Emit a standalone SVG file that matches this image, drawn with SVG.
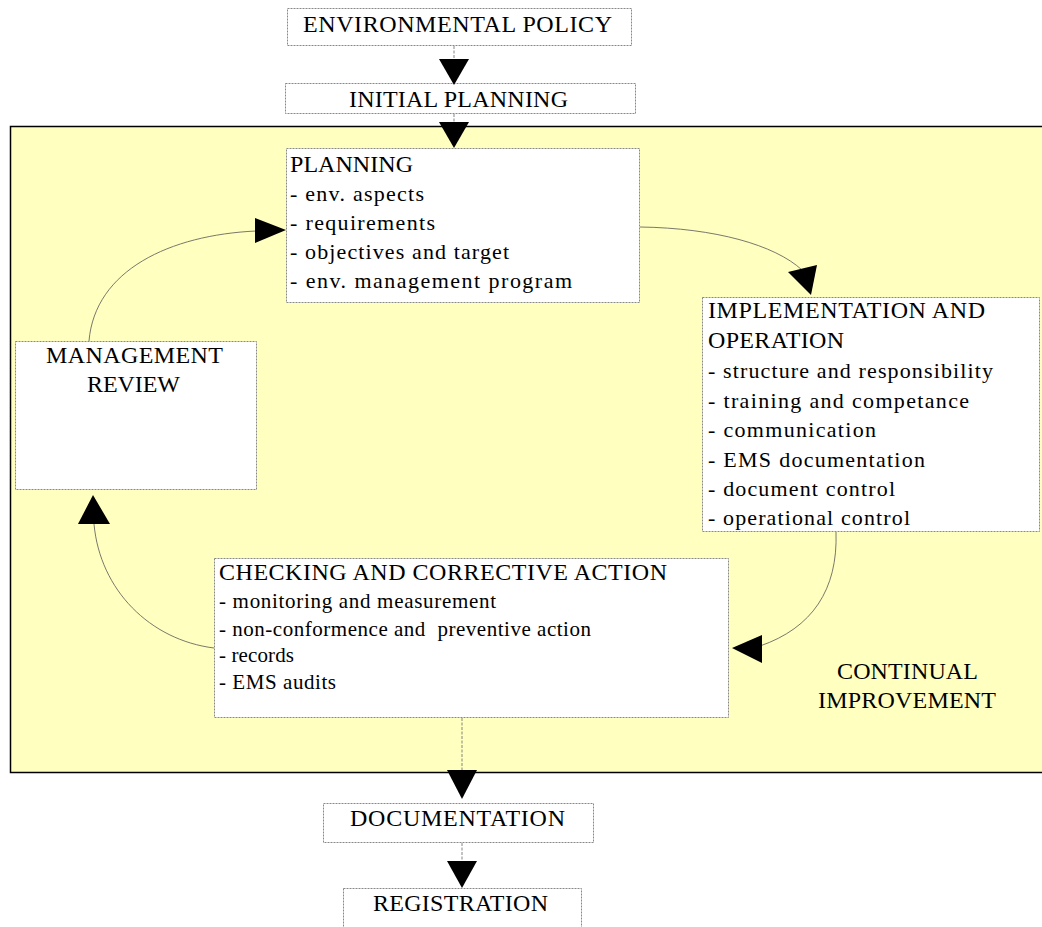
<svg xmlns="http://www.w3.org/2000/svg" width="1042" height="927" viewBox="0 0 1042 927">
<style>
.bg{fill:#FFFFC0;stroke:#000;stroke-width:1.5}
.box{fill:#fff;stroke:#888;stroke-width:1;stroke-dasharray:2,1}
.t{font-family:"Liberation Serif","Times New Roman",serif;fill:#000}
.h{font-size:24px}
.i{font-size:22px}
.s{font-size:21px}
.c{text-anchor:middle}
.ln{fill:none;stroke:#555;stroke-width:0.8}
.dl{fill:none;stroke:#666;stroke-width:0.8;stroke-dasharray:3,1.5}
.ah{fill:#000;stroke:none}
</style>
<rect class="bg" x="10.5" y="126.5" width="1045" height="646"/>
<g id="env-policy">
<rect class="box" x="287.5" y="8.5" width="344" height="37"/>
<text class="t h c" x="457.5" y="32" textLength="309" lengthAdjust="spacing">ENVIRONMENTAL POLICY</text>
</g>
<g id="initial-planning">
<rect class="box" x="285.5" y="83.5" width="350" height="30"/>
<text class="t h c" x="458.5" y="107" textLength="219" lengthAdjust="spacing">INITIAL PLANNING</text>
</g>
<g id="planning">
<rect class="box" x="286.5" y="148.5" width="353" height="154"/>
<text class="t h" x="290" y="172" textLength="123" lengthAdjust="spacing">PLANNING</text>
<text class="t i" x="290" y="201" textLength="134" lengthAdjust="spacing">- env. aspects</text>
<text class="t i" x="290" y="230" textLength="145" lengthAdjust="spacing">- requirements</text>
<text class="t i" x="290" y="259" textLength="219" lengthAdjust="spacing">- objectives and target</text>
<text class="t i" x="290" y="288" textLength="282" lengthAdjust="spacing">- env. management program</text>
</g>
<g id="implementation">
<rect class="box" x="702.5" y="297.5" width="337" height="234"/>
<text class="t h" x="708" y="318" textLength="277" lengthAdjust="spacing">IMPLEMENTATION AND</text>
<text class="t h" x="708" y="348" textLength="136" lengthAdjust="spacing">OPERATION</text>
<text class="t i" x="708" y="378" textLength="285" lengthAdjust="spacing">- structure and responsibility</text>
<text class="t i" x="708" y="408" textLength="261" lengthAdjust="spacing">- training and competance</text>
<text class="t i" x="708" y="437" textLength="168" lengthAdjust="spacing">- communication</text>
<text class="t i" x="708" y="467" textLength="217" lengthAdjust="spacing">- EMS documentation</text>
<text class="t i" x="708" y="496" textLength="187" lengthAdjust="spacing">- document control</text>
<text class="t i" x="708" y="525" textLength="202" lengthAdjust="spacing">- operational control</text>
</g>
<g id="checking">
<rect class="box" x="214.5" y="558.5" width="514" height="159"/>
<text class="t h" x="219" y="580" textLength="448" lengthAdjust="spacing">CHECKING AND CORRECTIVE ACTION</text>
<text class="t s" x="219" y="608" textLength="277" lengthAdjust="spacing">- monitoring and measurement</text>
<text class="t s" x="219" y="636" textLength="372" lengthAdjust="spacing" xml:space="preserve">- non-conformence and  preventive action</text>
<text class="t s" x="219" y="662" textLength="75" lengthAdjust="spacing">- records</text>
<text class="t s" x="219" y="689" textLength="117" lengthAdjust="spacing">- EMS audits</text>
</g>
<g id="management-review">
<rect class="box" x="15.5" y="341.5" width="241" height="148"/>
<text class="t h c" x="134.5" y="363" textLength="177" lengthAdjust="spacing">MANAGEMENT</text>
<text class="t h c" x="133.5" y="392" textLength="93" lengthAdjust="spacing">REVIEW</text>
</g>
<g id="continual-improvement">
<text class="t h c" x="907.5" y="679" textLength="141" lengthAdjust="spacing">CONTINUAL</text>
<text class="t h c" x="907" y="708" textLength="178" lengthAdjust="spacing">IMPROVEMENT</text>
</g>
<g id="documentation">
<rect class="box" x="323.5" y="803.5" width="270" height="39"/>
<text class="t h c" x="457.5" y="826" textLength="215" lengthAdjust="spacing">DOCUMENTATION</text>
</g>
<g id="registration">
<rect class="box" x="343.5" y="888.5" width="238" height="45"/>
<text class="t h c" x="460.5" y="911" textLength="175" lengthAdjust="spacing">REGISTRATION</text>
</g>
<g id="connectors">
<line class="dl" x1="454" y1="46" x2="454" y2="60"/>
<polygon class="ah" points="439,59 469,59 454,85"/>
<line class="dl" x1="454" y1="114" x2="454" y2="123"/>
<polygon class="ah" points="439,122 469,122 454,148"/>
<path class="ln" d="M640,227 C715,228 775,245 802,270"/>
<polygon class="ah" points="788,272 817,265 811,295"/>
<path class="ln" d="M836,532 C838,590 812,628 760,646"/>
<polygon class="ah" points="762,635 762,663 732,648"/>
<path class="ln" d="M214,648 C150,640 100,590 94,524"/>
<polygon class="ah" points="78,524 110,524 93,495"/>
<path class="ln" d="M89,341 C95,270 170,235 256,231"/>
<polygon class="ah" points="255,218 255,243 286,230"/>
<line class="dl" x1="462" y1="718" x2="462" y2="771"/>
<polygon class="ah" points="447,770 477,770 462,799"/>
<line class="dl" x1="462" y1="843" x2="462" y2="862"/>
<polygon class="ah" points="447,861 477,861 462,888"/>
</g>
</svg>
